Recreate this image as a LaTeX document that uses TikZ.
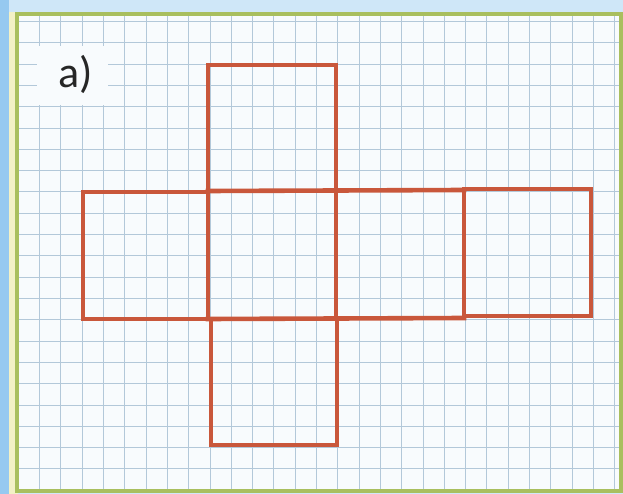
\documentclass[tikz,border=0pt]{standalone}
\usepackage{fontspec}
\setmainfont{Carlito}
\definecolor{bgblue}{HTML}{CFE7F8}
\definecolor{stripblue}{HTML}{96C9F0}
\definecolor{paleyel}{HTML}{F3F1C6}
\definecolor{framegreen}{HTML}{A9BF5E}
\definecolor{paper}{HTML}{F8FBFD}
\definecolor{gridc}{HTML}{B3C8D9}
\definecolor{netred}{HTML}{C9573B}
\tikzset{
  gridline/.style={draw=gridc, line width=1pt},
  netline/.style={draw=netred, line width=4.6pt, line cap=rect, line join=miter},
  lbl/.style={font=\fontsize{44}{44}\selectfont, text=black!85, anchor=base, inner sep=0pt}
}
\begin{document}
\begin{tikzpicture}[x=1pt,y=-1pt]
\useasboundingbox (0,0) rectangle (623,494);
% background
\fill[bgblue] (0,0) rectangle (623,494);
\fill[stripblue] (0,0) rectangle (9,494);
\fill[paleyel] (9,12) rectangle (18,494);
% paper
\fill[paper] (17,14) rectangle (621,491);
% grid
\begin{scope}
\clip (17,14) rectangle (621,491);
\foreach \k in {-9,...,19} {
  \draw[gridline] ({210+21.3*\k},14) -- ({210+21.3*\k},491);
}
\foreach \k in {-8,...,14} {
  \draw[gridline] (17,{192+21.3*\k}) -- (621,{192+21.3*\k});
}
\end{scope}
% frame
\draw[framegreen, line width=3.5pt] (17,14) rectangle (621,491);
% label box
\fill[paper] (37,46) rectangle (108,105);
\node[lbl] (lab) at (76,88) {a)};
% cube net
\coordinate (t1) at (208,65);
\coordinate (t2) at (336,65);
\draw[netline] (208,191) -- (t1) -- (t2) -- (336,191);
\draw[netline] (83,192) rectangle (208,319);
\draw[netline] (208,191) -- (464,190);
\draw[netline] (208,319) -- (464,318);
\draw[netline] (336,191) -- (336,319);
\draw[netline] (464,189) rectangle (591,316);
\draw[netline] (211,320) -- (211,445) -- (337,445) -- (337,320);
\end{tikzpicture}
\end{document}
